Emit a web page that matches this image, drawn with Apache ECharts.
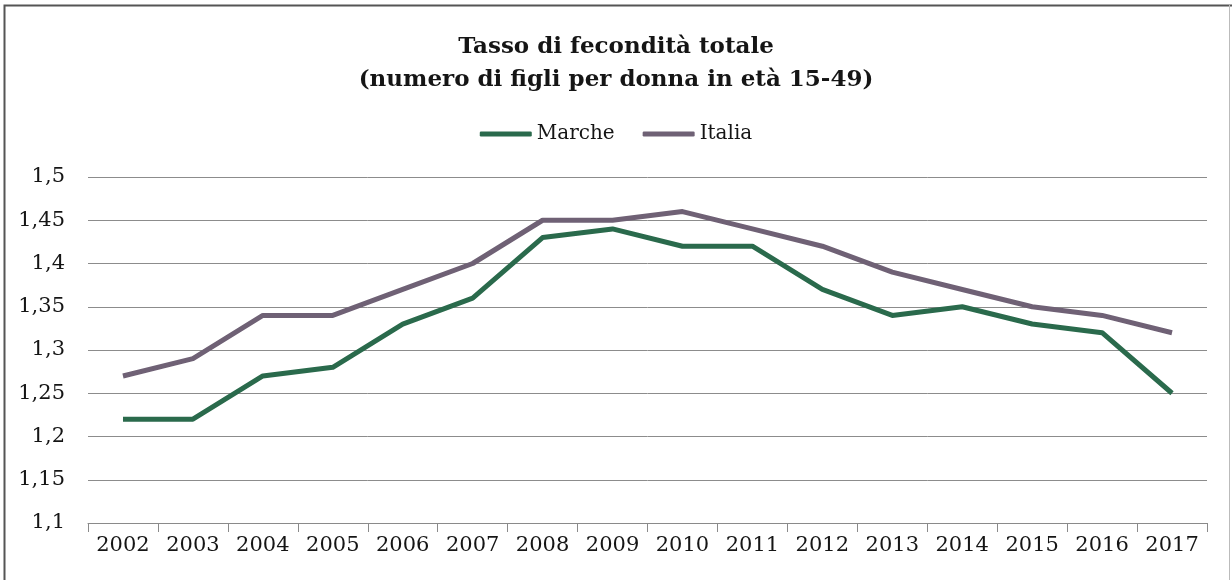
<!DOCTYPE html>
<html>
<head>
<meta charset="utf-8">
<script src="https://cdn.jsdelivr.net/npm/echarts@6/dist/echarts.min.js"></script>
<style>
	html, body { margin: 0; padding: 0; background: #fff; }
	#chart { width: 1232px; height: 580px; }
</style>
</head>
<body>
<div id="chart"></div>
<script>
	const years = ['2002', '2003', '2004', '2005', '2006', '2007', '2008', '2009', '2010', '2011', '2012', '2013', '2014', '2015', '2016', '2017']
	const marche = [1.22, 1.22, 1.27, 1.28, 1.33, 1.36, 1.43, 1.44, 1.42, 1.42, 1.37, 1.34, 1.35, 1.33, 1.32, 1.25]
	const italia = [1.27, 1.29, 1.34, 1.34, 1.37, 1.40, 1.45, 1.45, 1.46, 1.44, 1.42, 1.39, 1.37, 1.35, 1.34, 1.32]

	const serif = '"DejaVu Serif", "Liberation Serif", serif'

	var chart = echarts.init(document.getElementById('chart'))
	var option = {
		backgroundColor: '#fff',
		animation: false,
		title: {
			text: 'Tasso di fecondità totale\n(numero di figli per donna in età 15-49)',
			left: 'center',
			top: 26,
			textStyle: {
				fontFamily: serif,
				fontSize: 23,
				fontWeight: 'bold',
				color: '#151515',
				lineHeight: 33
			}
		},
		legend: {
			top: 119,
			left: 'center',
			itemWidth: 52,
			itemHeight: 5,
			itemGap: 28,
			icon: 'roundRect',
			textStyle: {
				fontFamily: serif,
				fontSize: 20,
				color: '#151515'
			},
			data: ['Marche', 'Italia']
		},
		grid: {
			left: 88,
			right: 25,
			top: 177,
			bottom: 57
		},
		xAxis: {
			type: 'category',
			data: years,
			boundaryGap: true,
			axisLine: { lineStyle: { color: '#8a8a8a', width: 1 } },
			axisTick: { show: true, length: 9, lineStyle: { color: '#8a8a8a' } },
			axisLabel: {
				fontFamily: serif,
				fontSize: 21,
				color: '#151515',
				margin: 12
			}
		},
		yAxis: {
			type: 'value',
			min: 1.1,
			max: 1.5,
			interval: 0.05,
			axisLine: { show: false },
			axisTick: { show: false },
			axisLabel: {
				fontFamily: serif,
				fontSize: 21,
				color: '#151515',
				margin: 23,
				formatter: function (v) {
					return String(Math.round(v * 100) / 100).replace('.', ',')
				}
			},
			splitLine: { lineStyle: { color: '#8c8c8c', width: 1 } }
		},
		series: [
			{
				name: 'Marche',
				type: 'line',
				data: marche,
				showSymbol: false,
				symbol: 'none',
				lineStyle: { color: '#2a6a4c', width: 5, join: 'round' },
				itemStyle: { color: '#2a6a4c' }
			},
			{
				name: 'Italia',
				type: 'line',
				data: italia,
				showSymbol: false,
				symbol: 'none',
				lineStyle: { color: '#6f6175', width: 5, join: 'round' },
				itemStyle: { color: '#6f6175' }
			}
		],
		graphic: [
			{
				type: 'polyline',
				shape: { points: [[4.5, 600], [4.5, 5.5], [1232, 5.5]] },
				style: { fill: null, stroke: '#555', lineWidth: 2 },
				silent: true
			},
			{
				type: 'line',
				shape: { x1: 1229.5, y1: 5, x2: 1229.5, y2: 600 },
				style: { stroke: '#bbb', lineWidth: 1 },
				silent: true
			}
		]
	}
	chart.setOption(option)
</script>
</body>
</html>
